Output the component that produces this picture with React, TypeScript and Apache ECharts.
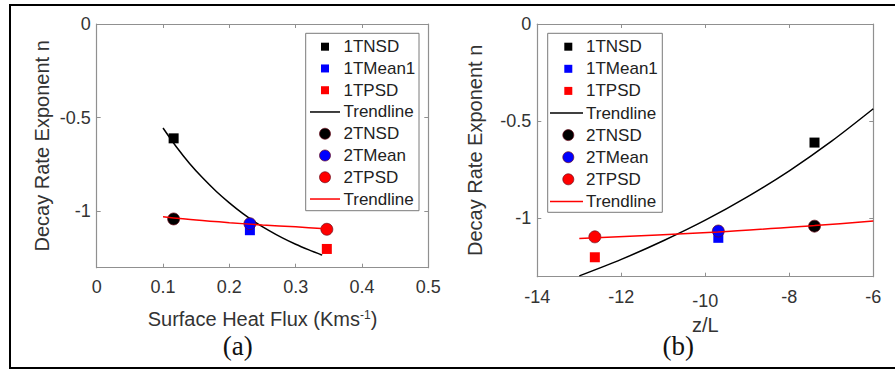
import React, { useEffect, useRef } from "react";
import * as echarts from "echarts";

// ---- data ----
const heatFlux = [0.116, 0.231, 0.347]; // panel (a) x: TNSD, TMean, TPSD
const zOverL = [-7.4, -9.69, -12.63]; // panel (b) x: TNSD, TMean, TPSD
const method1N = [-0.61, -1.1, -1.2]; // squares
const method2N = [-1.04, -1.065, -1.095]; // circles
const names1 = ["1TNSD", "1TMean1", "1TPSD"];
const names2 = ["2TNSD", "2TMean", "2TPSD"];
const trendName = "Trendline";

const trendA1X = [0.1, 0.12, 0.14, 0.16, 0.18, 0.2, 0.22, 0.24, 0.26, 0.28, 0.3, 0.32, 0.34];
const trendA1Y = [-0.555, -0.655, -0.744, -0.822, -0.892, -0.954, -1.01, -1.059, -1.102, -1.141, -1.175, -1.205, -1.233];
const trendA2X = [0.1, 0.15, 0.2, 0.25, 0.3, 0.345];
const trendA2Y = [-1.028, -1.046, -1.06, -1.072, -1.082, -1.092];
const trendB1X = [-13, -12, -11, -10, -9, -8, -7, -6];
const trendB1Y = [-1.296, -1.211, -1.115, -1.009, -0.889, -0.755, -0.604, -0.436];
const trendB2X = [-13.0, -9.7, -7.4, -6.0];
const trendB2Y = [-1.103, -1.07, -1.037, -1.014];

const yTickValues = [-1, -0.5, 0];
const xTickValuesB = [-14, -12, -10, -8, -6];
const Y_MIN = -1.3;
const panelLabels = ["(a)", "(b)"];
const xTitles = ["Surface Heat Flux (Kms{sup|-1})", "z/L"];
const yTitle = "Decay Rate Exponent n";

// ---- styles ----
const COLORS = ["#000000", "#0000ff", "#ff0000"];
const SANS = "'Liberation Sans', Arial, sans-serif";
const SERIF = "'Liberation Serif', 'Times New Roman', serif";
const AXIS_COLOR = "#909090";
const TEXT_COLOR = "#333333";

const zip = (xs: number[], ys: number[]) => xs.map((x, i) => [x, ys[i]]);

function panelSeries(p: number, xs: number[], t1: number[][], t2: number[][]) {
  const s: any[] = [];
  for (let i = 0; i < 3; i++) {
    s.push({
      type: "scatter",
      name: names1[i],
      xAxisIndex: p * 2,
      yAxisIndex: p * 2,
      symbol: "rect",
      symbolSize: 10,
      itemStyle: { color: COLORS[i], opacity: 1 },
      data: [[xs[i], method1N[i]]],
      z: 2,
    });
  }
  s.push({
    type: "line",
    name: trendName + "1",
    xAxisIndex: p * 2,
    yAxisIndex: p * 2,
    symbol: "none",
    smooth: 0.3,
    lineStyle: { color: "#000", width: 1.5 },
    data: t1,
    z: 3,
  });
  for (let i = 0; i < 3; i++) {
    s.push({
      type: "scatter",
      name: names2[i],
      xAxisIndex: p * 2,
      yAxisIndex: p * 2,
      symbol: "circle",
      symbolSize: 12,
      itemStyle: { color: COLORS[i], opacity: 1, borderColor: "#6a0a1a", borderWidth: 0.7 },
      data: [[xs[i], method2N[i]]],
      z: 4,
    });
  }
  s.push({
    type: "line",
    name: trendName + "2",
    xAxisIndex: p * 2,
    yAxisIndex: p * 2,
    symbol: "none",
    smooth: 0.3,
    lineStyle: { color: "#ff0000", width: 1.5 },
    data: t2,
    z: 5,
  });
  return s;
}

function legendGraphic(
  key: string, boxX: number, boxY: number, boxW: number, boxH: number,
  row0: number, rowGap: number, iconX: number, lineX0: number, lineX1: number, textX: number
) {
  const entries = [
    ...names1.map((n, i) => ({ name: n, kind: "square", color: COLORS[i] })),
    { name: trendName, kind: "line", color: "#000000" },
    ...names2.map((n, i) => ({ name: n, kind: "circle", color: COLORS[i] })),
    { name: trendName, kind: "line", color: "#ff0000" },
  ];
  const els: any[] = [
    {
      id: key + "box",
      type: "rect",
      shape: { x: boxX, y: boxY, width: boxW, height: boxH },
      style: { fill: "#ffffff", stroke: "#7a7a7a", lineWidth: 1 },
      z: 100,
    },
  ];
  entries.forEach((e, i) => {
    const cy = row0 + i * rowGap;
    if (e.kind === "square") {
      els.push({ id: key + "i" + i, type: "rect", shape: { x: iconX - 4, y: cy - 4, width: 8, height: 8 }, style: { fill: e.color }, z: 101 });
    } else if (e.kind === "circle") {
      els.push({ id: key + "i" + i, type: "circle", shape: { cx: iconX, cy, r: 5.5 }, style: { fill: e.color, stroke: "#6a0a1a", lineWidth: 0.7 }, z: 101 });
    } else {
      els.push({ id: key + "i" + i, type: "line", shape: { x1: lineX0, y1: cy, x2: lineX1, y2: cy }, style: { stroke: e.color, lineWidth: 1.5 }, z: 101 });
    }
    els.push({
      id: key + "t" + i,
      type: "text",
      x: textX,
      y: cy,
      style: { text: e.name, fill: "#222222", fontSize: 17, fontFamily: SANS, align: "left", verticalAlign: "middle" },
      z: 101,
    });
  });
  return els;
}

function makeAxes(
  p: number, xMin: number, xMax: number, xInt: number,
  xName: string, nameGapX: number, nameGapY: number, rich: any, showXLabels: boolean
) {
  const common = {
    gridIndex: p,
    axisLine: { show: true, onZero: false, lineStyle: { color: AXIS_COLOR, width: 1.2 } },
    axisTick: { show: true, inside: true, length: 4, lineStyle: { color: AXIS_COLOR, width: 1 } },
    splitLine: { show: false },
  };
  const xAxes = [
    {
      ...common,
      type: "value",
      position: "bottom",
      min: xMin,
      max: xMax,
      interval: xInt,
      name: xName,
      nameLocation: "middle",
      nameGap: nameGapX,
      nameTextStyle: { fontSize: 20, fontFamily: SANS, color: TEXT_COLOR, verticalAlign: "top", rich },
      axisLabel: { show: showXLabels, fontSize: 18, fontFamily: SANS, color: TEXT_COLOR, margin: 10 },
    },
    {
      ...common,
      type: "value",
      position: "top",
      min: xMin,
      max: xMax,
      interval: xInt,
      axisLabel: { show: false },
    },
  ];
  const yAxes = [
    {
      ...common,
      type: "value",
      position: "left",
      min: Y_MIN,
      max: 0,
      name: yTitle,
      nameLocation: "middle",
      nameGap: nameGapY,
      nameTextStyle: { fontSize: 20, fontFamily: SANS, color: TEXT_COLOR },
      axisLabel: { fontSize: 18, fontFamily: SANS, color: TEXT_COLOR, margin: 6, customValues: yTickValues },
      axisTick: { ...common.axisTick, customValues: yTickValues },
    },
    {
      ...common,
      type: "value",
      position: "right",
      min: Y_MIN,
      max: 0,
      axisLabel: { show: false, customValues: yTickValues },
      axisTick: { ...common.axisTick, customValues: yTickValues },
    },
  ];
  return { xAxes, yAxes };
}

export default function App() {
  const ref = useRef<HTMLDivElement>(null);
  useEffect(() => {
    if (!ref.current) return;
    const chart = echarts.init(ref.current, null, { renderer: "svg" });
    const rich = { sup: { fontSize: 12, fontFamily: SANS, color: TEXT_COLOR, verticalAlign: "top", padding: [0, 0, 8, 0] } };
    const a = makeAxes(0, 0, 0.5, 0.1, xTitles[0], 41, 45, rich, true);
    const b = makeAxes(1, -14, -6, 2, "", 37, 52, rich, false);
    const staticGraphic: any[] = [
      {
        id: "frame",
        type: "rect",
        shape: { x: 10, y: 5, width: 900, height: 363 },
        style: { fill: "none", stroke: "#000000", lineWidth: 2 },
        z: 0,
        silent: true,
      },
      ...legendGraphic("la", 305.7, 33.3, 113.3, 177.4, 46.7, 21.76, 325, 310, 340, 343.5),
      ...legendGraphic("lb", 547.7, 33.3, 114.6, 179, 46.7, 22.1, 568.3, 550, 583, 586),
      {
        id: "labA",
        type: "text",
        x: 237.7,
        y: 346,
        style: { text: panelLabels[0], fill: "#111111", fontSize: 27, fontFamily: SERIF, align: "center", verticalAlign: "middle" },
      },
      {
        id: "labB",
        type: "text",
        x: 678.3,
        y: 346,
        style: { text: panelLabels[1], fill: "#111111", fontSize: 27, fontFamily: SERIF, align: "center", verticalAlign: "middle" },
      },
    ];
    const option: any = {
      animation: false,
      backgroundColor: "#ffffff",
      grid: [
        { left: 96.7, top: 24, width: 331.6, height: 243.7, containLabel: false },
        { left: 537.3, top: 24, width: 336, height: 252.7, containLabel: false },
      ],
      xAxis: [...a.xAxes, ...b.xAxes],
      yAxis: [...a.yAxes, ...b.yAxes],
      series: [
        ...panelSeries(0, heatFlux, zip(trendA1X, trendA1Y), zip(trendA2X, trendA2Y)),
        ...panelSeries(1, zOverL, zip(trendB1X, trendB1Y), zip(trendB2X, trendB2Y)),
      ],
      graphic: staticGraphic,
    };
    chart.setOption(option);

    // panel (b) x tick labels, positioned through the panel's own x scale;
    // the middle tick label and the axis title share one two-line text
    const midIndex = Math.floor(xTickValuesB.length / 2);
    const tickEls: any[] = [];
    xTickValuesB.forEach((v, i) => {
      const pt = chart.convertToPixel({ xAxisIndex: 2, yAxisIndex: 2 }, [v, Y_MIN]) as number[];
      if (i === midIndex) {
        tickEls.push({
          id: "xtbmid",
          type: "text",
          x: pt[0],
          y: pt[1] + 11,
          style: {
            text: "{t|" + String(v) + "}\n{n|" + xTitles[1] + "}",
            align: "center",
            verticalAlign: "top",
            rich: {
              t: { fontSize: 18, fontFamily: SANS, fill: TEXT_COLOR, lineHeight: 26 },
              n: { fontSize: 20, fontFamily: SANS, fill: TEXT_COLOR, lineHeight: 22 },
            },
          },
          z: 200,
        });
      } else {
        tickEls.push({
          id: "xtb" + i,
          type: "text",
          x: pt[0],
          y: pt[1] + 11,
          style: { text: String(v), fill: TEXT_COLOR, fontSize: 18, fontFamily: SANS, align: "center", verticalAlign: "top" },
          z: 200,
        });
      }
    });
    chart.setOption({ graphic: [...staticGraphic, ...tickEls] });
    return () => chart.dispose();
  }, []);
  return (
    <div
      ref={ref}
      style={{ position: "fixed", left: 0, top: 0, width: 895, height: 371, background: "#fff" }}
    />
  );
}
